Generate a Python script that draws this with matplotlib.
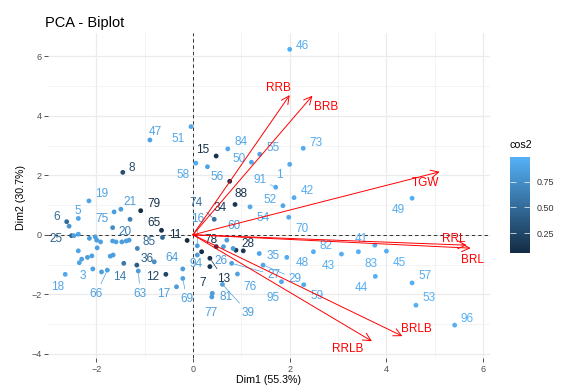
import matplotlib.pyplot as plt
from matplotlib.colors import LinearSegmentedColormap, Normalize
from matplotlib.cm import ScalarMappable
from matplotlib.ticker import MultipleLocator

plt.rcParams['font.family'] = ['Liberation Sans', 'DejaVu Sans']

# Individuals: name, Dim1, Dim2, cos2

ind_names = [
    "46", "47", "51", "8", "58", "15", "84", "55", "73", "50",
    "1", "56", "88", "91", "42", "52", "54", "70", "34", "74",
    "16", "60", "78", "28", "94", "26", "35", "48", "82", "43",
    "41", "83", "45", "49", "57", "53", "96", "44", "59", "29",
    "27", "76", "95", "39", "81", "77", "13", "7", "11", "65",
    "79", "85", "20", "21", "75", "19", "5", "6", "25", "18",
    "3", "66", "14", "63", "36", "12", "64", "17", "69",
    "2", "4", "9", "10", "22", "23", "24", "30", "31", "32",
    "33", "37", "38", "40", "61", "62", "67", "68", "71", "72",
    "80", "86", "87", "89", "90", "92", "93",
]
ind_dim1 = [
    2.00, -0.89, -0.04, -1.45, 0.06, 0.48, 0.72, 1.38, 2.28, 1.21,
    2.00, 0.30, 0.76, 1.71, 2.09, 1.18, 1.86, 1.98, 0.87, 0.44,
    0.09, 0.70, 0.18, 1.04, 0.09, 0.63, 1.37, 1.94, 2.49, 3.07,
    3.76, 3.42, 4.00, 4.53, 4.53, 4.61, 5.41, 3.77, 2.29, 1.45,
    0.80, 0.92, 1.83, 0.61, 0.40, 0.39, 0.35, 0.35, -0.12, -0.65,
    -1.08, -0.63, -1.30, -1.49, -1.63, -2.15, -2.37, -2.61, -2.51, -2.64,
    -2.35, -1.77, -1.43, -1.13, -1.16, -0.56, -0.21, -0.34, -0.21,
    -2.56, -2.46, -2.37, -2.14, -2.02, -1.99, -1.91, -1.66, -1.59, -1.47,
    -1.38, -1.32, -1.98, -2.37, -1.15, -1.71, -1.65, -2.09, -2.18, -2.30,
    -2.07, -1.89, -1.66, -0.80, 0.48, 0.89, 0.83,
]
ind_dim2 = [
    6.24, 3.19, 3.64, 2.10, 2.41, 2.65, 2.89, 2.71, 2.91, 2.44,
    2.37, 2.29, 1.80, 1.60, 1.25, 0.94, 0.98, 0.59, 1.02, 0.52,
    -0.37, -0.18, -0.57, -0.54, -0.68, -0.40, -0.63, -0.76, -0.57, -0.65,
    -0.35, -0.57, -0.55, 1.23, -1.62, -2.37, -3.04, -1.40, -1.68, -1.02,
    -0.96, -1.32, -1.58, -1.67, -1.97, -2.09, -0.79, -1.07, -0.19, 0.15,
    0.81, -0.09, 0.52, 0.86, 0.77, 1.14, 0.55, 0.44, -0.03, -1.33,
    -0.94, -1.19, -0.96, -1.22, -1.02, -1.33, -1.15, -1.75, -1.47,
    0.29, -0.03, 0.02, -0.12, -0.07, -0.18, -0.24, -0.21, -0.24, -0.24,
    -0.21, -0.18, -0.44, -0.54, -0.46, -0.72, -0.68, -0.71, -0.76, -0.82,
    -1.15, -1.25, 0.24, -0.91, -0.40, -0.52, -0.46,
]
ind_cos2 = [
    0.97, 0.90, 0.93, 0.30, 0.95, 0.10, 0.93, 0.92, 0.95, 0.92,
    0.95, 0.90, 0.12, 0.93, 0.96, 0.93, 0.92, 0.94, 0.15, 0.55,
    0.85, 0.85, 0.08, 0.15, 0.85, 0.85, 0.90, 0.95, 0.97, 0.97,
    0.98, 0.98, 0.98, 0.97, 0.97, 0.98, 0.995, 0.98, 0.95, 0.92,
    0.88, 0.90, 0.93, 0.88, 0.85, 0.85, 0.12, 0.12, 0.054, 0.10,
    0.08, 0.50, 0.65, 0.85, 0.85, 0.90, 0.92, 0.50, 0.45, 0.93,
    0.90, 0.88, 0.60, 0.85, 0.40, 0.25, 0.85, 0.85, 0.88,
    0.80, 0.88, 0.90, 0.85, 0.88, 0.85, 0.88, 0.85, 0.88, 0.85,
    0.88, 0.85, 0.88, 0.90, 0.70, 0.85, 0.85, 0.88, 0.85, 0.88,
    0.88, 0.85, 0.75, 0.75, 0.12, 0.15, 0.85,
]

# Labels that ggrepel dropped in the original

hidden_labels = ind_names[69:]

# Variables (arrow tips)

var_names = ["RRB", "BRB", "TGW", "RRL", "BRL", "BRLB", "RRLB"]
var_dim1 = [2.00, 2.47, 5.10, 5.66, 5.74, 4.33, 3.70]
var_dim2 = [4.70, 4.68, 2.12, -0.35, -0.45, -3.41, -3.58]

# Label placement (pixel offsets, like the repelled labels)

label_nudge = {
    "46": (13, 5), "47": (5, 9), "51": (-13, -11), "8": (9, 6), "58": (-13, -10),
    "15": (-13, 8), "84": (13, 8), "55": (13, 8), "73": (13, 7), "50": (-12, 5),
    "1": (-10, -9), "56": (10, -9), "88": (11, -11), "91": (-16, 9), "42": (13, 8),
    "52": (20, 8), "54": (-20, -11), "70": (13, -10), "34": (-15, -2), "74": (-18, 18),
    "16": (0, 28), "60": (7, 16), "78": (9, 13), "28": (5, 8), "94": (-1, -8),
    "26": (-2, -13), "35": (14, -1), "48": (15, -4), "82": (13, 7), "43": (-13, -10),
    "41": (-14, 8), "83": (13, -11), "45": (13, -10), "49": (-14, -10), "57": (13, 8),
    "53": (13, 9), "96": (12, 8), "44": (-14, -10), "59": (13, -10), "29": (32, -12),
    "27": (42, -10), "76": (13, -11), "95": (-8, -15), "39": (26, -27), "81": (14, -2),
    "77": (-1, -15), "13": (14, -19), "7": (-7, -15), "11": (-12, 7), "65": (-8, 9),
    "79": (13, 8), "85": (-13, -3), "20": (-5, -11), "21": (9, 9), "75": (-12, -6),
    "19": (13, 8), "5": (0, 9), "6": (-10, 6), "25": (-16, -2), "18": (-8, -11),
    "3": (4, -12), "66": (-11, -22), "14": (-4, -12), "63": (2, -21), "36": (10, 8),
    "12": (-13, -1), "64": (-11, 12), "17": (-13, -6), "69": (4, -19),
}
segment_labels = ["91", "74", "16", "60", "29", "27", "39", "13", "66", "63", "69"]

var_nudge = {
    "RRB": (-11, 9), "BRB": (14, -10), "TGW": (-14, -10), "RRL": (-13, 8),
    "BRL": (2, -10), "BRLB": (14, 9), "RRLB": (-24, -6),
}

# Figure setup:

fig = plt.figure(figsize=(5.61, 3.88), dpi=100)
ax = fig.add_axes([0.0861, 0.077, 0.7873, 0.838])

cmap = LinearSegmentedColormap.from_list("cos2", ["#132B43", "#56B1F7"])
norm = Normalize(vmin=min(ind_cos2), vmax=max(ind_cos2))

ax.set_xlim(-2.99, 6.14)
ax.set_ylim(-4.15, 6.79)
ax.xaxis.set_major_locator(MultipleLocator(2))
ax.yaxis.set_major_locator(MultipleLocator(2))
ax.xaxis.set_minor_locator(MultipleLocator(1))
ax.yaxis.set_minor_locator(MultipleLocator(1))
ax.grid(which="major", color="#EBEBEB", lw=0.9)
ax.grid(which="minor", color="#F2F2F2", lw=0.6)
ax.set_axisbelow(True)
for side in ax.spines.values():
    side.set_visible(False)
ax.tick_params(which="major", length=3, width=0.6, color="#333333",
               labelsize=6.5, labelcolor="#4D4D4D", pad=2)
ax.tick_params(which="minor", length=0)

ax.axhline(0, color="#333333", lw=0.7, ls=(0, (3.5, 3)), zorder=1)
ax.axvline(0, color="#333333", lw=0.7, ls=(0, (3.5, 3)), zorder=1)

# Individuals:

ax.scatter(ind_dim1, ind_dim2, c=ind_cos2, cmap=cmap, norm=norm,
           s=12, linewidths=0, zorder=3)

for name, x, y, c in zip(ind_names, ind_dim1, ind_dim2, ind_cos2):
    if name in hidden_labels:
        continue
    col = cmap(norm(c))
    seg = None
    if name in segment_labels:
        seg = dict(arrowstyle="-", color=col, lw=0.5, shrinkA=1, shrinkB=2)
    ax.annotate(name, (x, y), xytext=label_nudge[name],
                textcoords="offset pixels", ha="center",
                va="center_baseline", fontsize=8.5, color=col,
                arrowprops=seg, zorder=4)

# Variables:

for name, x, y in zip(var_names, var_dim1, var_dim2):
    ax.annotate("", xy=(x, y), xytext=(0, 0),
                arrowprops=dict(arrowstyle="->,head_length=0.7,head_width=0.35",
                                mutation_scale=8, color="red", lw=0.7,
                                shrinkA=0, shrinkB=0),
                zorder=5)
    ax.annotate(name, (x, y), xytext=var_nudge[name],
                textcoords="offset pixels", ha="center",
                va="center_baseline", fontsize=8.5, color="red", zorder=6)

# Titles:

fig.text(45 / 561, 1 - 26.5 / 388, "PCA - Biplot", fontsize=10.5,
         ha="left", va="baseline")
fig.text(269 / 561, 1 - 380 / 388, "Dim1 (55.3%)", fontsize=7.7,
         ha="center", va="center")
fig.text(20.5 / 561, 1 - 197.5 / 388, "Dim2 (30.7%)", fontsize=7.7,
         ha="center", va="center", rotation=90)

# Colour bar:

cax = fig.add_axes([510 / 561, 1 - 253 / 388, 20 / 561, 96 / 388])
cbar = fig.colorbar(ScalarMappable(norm=norm, cmap=cmap), cax=cax)
cbar.outline.set_visible(False)
cbar.set_ticks([0.25, 0.50, 0.75])
cbar.ax.tick_params(left=True, right=True, labelleft=False, labelright=True,
                    direction="in", length=4, width=0.5, color="white",
                    labelsize=6.5, labelcolor="#333333", pad=5)
fig.text(510 / 561, 1 - 145 / 388, "cos2", fontsize=7.7,
         ha="left", va="center")

fig.savefig("out.png", dpi=100)
